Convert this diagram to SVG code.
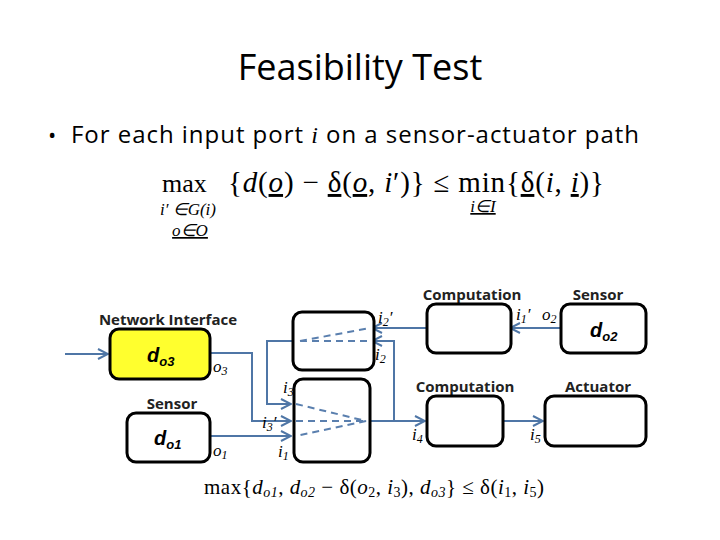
<svg xmlns="http://www.w3.org/2000/svg" width="720" height="540" viewBox="0 0 720 540">
<defs>
<marker id="ar" viewBox="0 0 12 12" refX="11" refY="6" markerWidth="12" markerHeight="12" markerUnits="userSpaceOnUse" orient="auto"><path d="M1,1 L11,6 L1,11" fill="none" stroke="#4f76a6" stroke-width="2"/></marker>
<style>
.b{fill:#fff;stroke:#000;stroke-width:3}
.w{stroke:#4f76a6;stroke-width:2;fill:none}
.d{stroke:#5a7fae;stroke-width:2;fill:none;stroke-dasharray:7 5}
.h{font-family:"Open Sans","Liberation Sans",sans-serif;font-weight:bold;font-size:15px;fill:#222}
.m{font-family:"Liberation Serif",serif;font-style:italic;font-size:17px}
.n{font-family:"Liberation Serif",serif;font-size:29px}
.di{font-family:"Liberation Sans",sans-serif;font-style:italic;font-weight:bold;font-size:20px}
</style>
</defs>
<rect width="720" height="540" fill="#fff"/>
<text x="360" y="80" text-anchor="middle" font-family="Open Sans, Liberation Sans, sans-serif" font-size="36">Feasibility Test</text>
<text x="48" y="143" font-family="Open Sans, Liberation Sans, sans-serif" font-size="22">•</text>
<text x="71" y="143" font-family="Open Sans, Liberation Sans, sans-serif" font-size="24" textLength="568">For each input port <tspan font-family="Liberation Serif" font-style="italic">i</tspan> on a sensor-actuator path</text>
<g id="formula" class="n">
<text x="162" y="192" font-size="26">max</text>
<text x="228" y="192" textLength="376">{<tspan font-style="italic">d</tspan>(<tspan font-style="italic" text-decoration="underline">o</tspan>) − <tspan text-decoration="underline">δ</tspan>(<tspan font-style="italic" text-decoration="underline">o</tspan>, <tspan font-style="italic">i</tspan>′)} ≤ min{<tspan text-decoration="underline">δ</tspan>(<tspan font-style="italic">i</tspan>, <tspan font-style="italic" text-decoration="underline">i</tspan>)}</text>
<text x="188" y="215" font-size="17" text-anchor="middle" font-style="italic">i′ ∈G(i)</text>
<text x="190" y="236" font-size="17" text-anchor="middle" font-style="italic" text-decoration="underline">o∈O</text>
<text x="483" y="212" font-size="17" text-anchor="middle" font-style="italic" text-decoration="underline">i∈I</text>
</g>
<g id="connectors">
<path class="w" d="M65,354 H108" marker-end="url(#ar)"/>
<path class="w" d="M210,353 H252 V421 H291" marker-end="url(#ar)"/>
<path class="w" d="M210,436 H291" marker-end="url(#ar)"/>
<path class="w" d="M296,341 H267 V404 H291" marker-end="url(#ar)"/>
<path class="w" d="M370,421 H425" marker-end="url(#ar)"/>
<path class="w" d="M394,421 V341 H372" marker-end="url(#ar)"/>
<path class="w" d="M427,328 H372" marker-end="url(#ar)"/>
<path class="w" d="M561,328 H510" marker-end="url(#ar)"/>
<path class="w" d="M503,421 H543" marker-end="url(#ar)"/>
</g>
<g id="ni"><text class="h" x="168" y="325" text-anchor="middle">Network Interface</text><rect x="110" y="329" width="100" height="50" rx="9" class="b" style="fill:#ffff2e"/><text class="di" x="147" y="362">d<tspan font-size="13" dy="4">o3</tspan></text><text class="m" x="213" y="372">o<tspan font-size="12" dy="3">3</tspan></text></g>
<g id="s1"><text class="h" x="172" y="409" text-anchor="middle">Sensor</text><rect x="127" y="413" width="83" height="49" rx="9" class="b"/><text class="di" x="154" y="445">d<tspan font-size="13" dy="4">o1</tspan></text><text class="m" x="213" y="456">o<tspan font-size="12" dy="3">1</tspan></text></g>
<g id="mu"><rect x="293" y="312" width="81" height="58" rx="9" class="b"/><path class="d" d="M300,341 L370,328 M300,341 H370"/><text class="m" x="378" y="323">i<tspan font-size="12" dy="3">2</tspan><tspan dy="-3">′</tspan></text><text class="m" x="375" y="360">i<tspan font-size="12" dy="3">2</tspan></text></g>
<g id="ml"><rect x="294" y="379" width="76" height="83" rx="9" class="b"/><path class="d" d="M296,404 L366,421 L296,436 M296,421 H366"/><text class="m" x="283" y="393">i<tspan font-size="12" dy="3">3</tspan></text><text class="m" x="262" y="428">i<tspan font-size="12" dy="3">3</tspan><tspan dy="-3">′</tspan></text><text class="m" x="278" y="457">i<tspan font-size="12" dy="3">1</tspan></text></g>
<g id="c1"><text class="h" x="472" y="300" text-anchor="middle">Computation</text><rect x="427" y="304" width="84" height="49" rx="9" class="b"/><text class="m" x="516" y="320">i<tspan font-size="12" dy="3">1</tspan><tspan dy="-3">′</tspan></text><text class="m" x="542" y="320">o<tspan font-size="12" dy="3">2</tspan></text></g>
<g id="s2"><text class="h" x="598" y="300" text-anchor="middle">Sensor</text><rect x="561" y="304" width="85" height="49" rx="9" class="b"/><text class="di" x="590" y="337">d<tspan font-size="13" dy="4">o2</tspan></text></g>
<g id="c2"><text class="h" x="465" y="392" text-anchor="middle">Computation</text><rect x="427" y="396" width="76" height="50" rx="9" class="b"/><text class="m" x="412" y="440">i<tspan font-size="12" dy="3">4</tspan></text></g>
<g id="act"><text class="h" x="598" y="392" text-anchor="middle">Actuator</text><rect x="545" y="396" width="101" height="50" rx="9" class="b"/><text class="m" x="530" y="440">i<tspan font-size="12" dy="3">5</tspan></text></g>
<text x="204" y="494" font-family="Liberation Serif, serif" font-size="21" textLength="340">max{<tspan font-style="italic">d</tspan><tspan font-size="14" dy="3" font-style="italic">o1</tspan><tspan dy="-3">, </tspan><tspan font-style="italic">d</tspan><tspan font-size="14" dy="3" font-style="italic">o2</tspan><tspan dy="-3"> − δ(</tspan><tspan font-style="italic">o</tspan><tspan font-size="14" dy="3">2</tspan><tspan dy="-3">, </tspan><tspan font-style="italic">i</tspan><tspan font-size="14" dy="3">3</tspan><tspan dy="-3">), </tspan><tspan font-style="italic">d</tspan><tspan font-size="14" dy="3" font-style="italic">o3</tspan><tspan dy="-3">} ≤ δ(</tspan><tspan font-style="italic">i</tspan><tspan font-size="14" dy="3">1</tspan><tspan dy="-3">, </tspan><tspan font-style="italic">i</tspan><tspan font-size="14" dy="3">5</tspan><tspan dy="-3">)</tspan></text>
</svg>
